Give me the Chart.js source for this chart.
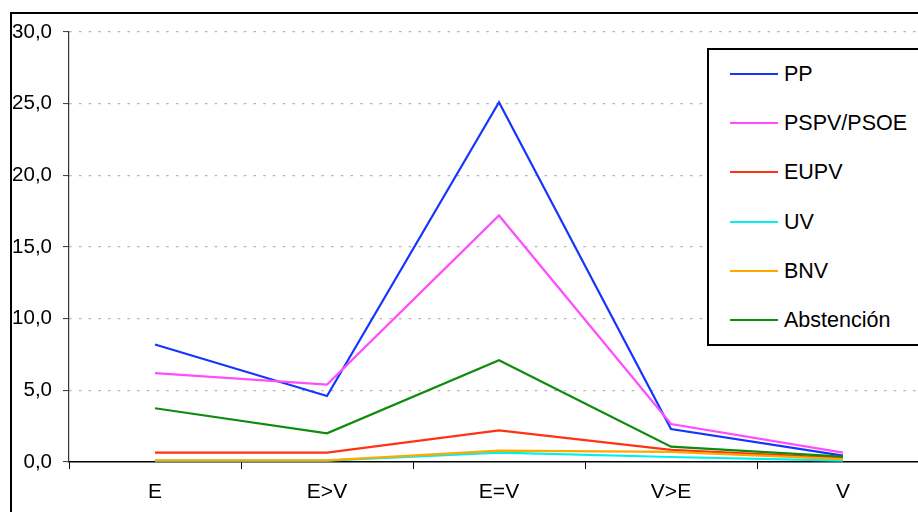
<!DOCTYPE html>
<html>
<head>
<meta charset="utf-8">
<script src="https://cdn.jsdelivr.net/npm/chart.js@4/dist/chart.umd.min.js"></script>
<style>
  html, body { margin: 0; padding: 0; background: #fff; overflow: hidden; }
  body { width: 918px; height: 512px; position: relative; font-family: "Liberation Sans", Arial, sans-serif; }
  #marco { position: absolute; left: 10px; top: 12px; width: 1000px; height: 600px; border: 2px solid #000; box-sizing: border-box; }
  #lienzo { position: absolute; left: 0; top: 0; width: 940px; height: 512px; }
  #leyenda { position: absolute; left: 707px; top: 48px; width: 260px; height: 298px; border: 2px solid #000; box-sizing: border-box; background: #fff; }
  .item { position: absolute; left: 21px; height: 26px; line-height: 26px; font-size: 21.5px; color: #000; white-space: nowrap; }
  .item span { display: inline-block; width: 48px; height: 2px; vertical-align: middle; margin-right: 6px; position: relative; top: -1px; }
</style>
</head>
<body>
<div id="marco"></div>
<div id="lienzo"><canvas id="grafico" width="940" height="512"></canvas></div>
<div id="leyenda"></div>
<script>
// categorias del eje x
var categorias = ['E', 'E>V', 'E=V', 'V>E', 'V'];

// porcentajes por partido
var pp         = [8.2, 4.6, 25.1, 2.3, 0.45];
var pspv_psoe  = [6.2, 5.4, 17.2, 2.65, 0.65];
var eupv       = [0.65, 0.65, 2.2, 0.85, 0.28];
var uv         = [0.1, 0.1, 0.65, 0.35, 0.1];
var bnv        = [0.12, 0.12, 0.8, 0.7, 0.2];
var abstencion = [3.75, 2.0, 7.1, 1.07, 0.38];

var nombres = ['PP', 'PSPV/PSOE', 'EUPV', 'UV', 'BNV', 'Abstención'];
var colores = ['#1535ff', '#ff4cff', '#ff3311', '#00f0f0', '#ffa800', '#0d8c0d'];
var series = [pp, pspv_psoe, eupv, uv, bnv, abstencion];

var marcas_y = [0, 5, 10, 15, 20, 25, 30];

var datasets = [];
for (var i = 0; i < series.length; i++) {
    datasets.push({
        label: nombres[i],
        data: series[i],
        borderColor: colores[i],
        backgroundColor: colores[i],
        borderWidth: 2.2,
        pointRadius: 0,
        tension: 0,
        fill: false,
        order: series.length - i
    });
}

// leyenda en html (caja con borde como en el original)
var leyenda = document.getElementById('leyenda');
var centros = [24, 73, 122, 172, 221, 270];
for (var j = 0; j < nombres.length; j++) {
    var d = document.createElement('div');
    d.className = 'item';
    d.style.top = (centros[j] - 13) + 'px';
    d.innerHTML = '<span style="background:' + colores[j] + '"></span>' + nombres[j];
    leyenda.appendChild(d);
}

const ctx = document.getElementById('grafico');
const grafico = new Chart(ctx, {
    type: 'line',
    data: {
        labels: categorias,
        datasets: datasets
    },
    options: {
        responsive: false,
        animation: false,
        layout: {
            padding: { top: 32, right: 11, left: 0, bottom: 0 }
        },
        plugins: {
            legend: { display: false },
            tooltip: { enabled: false }
        },
        scales: {
            x: {
                offset: true,
                grid: {
                    offset: true,
                    drawOnChartArea: false,
                    drawTicks: true,
                    tickLength: 7,
                    tickColor: '#000',
                    tickWidth: 1
                },
                border: { color: '#000', width: 1.5 },
                ticks: {
                    color: '#000',
                    padding: 11,
                    font: { family: 'Liberation Sans', size: 21 }
                },
                afterFit: function (s) { s.height = 50; }
            },
            y: {
                min: 0,
                max: 30,
                afterBuildTicks: function (s) {
                    s.ticks = marcas_y.map(function (v) { return { value: v }; });
                },
                grid: {
                    color: function (c) { return c.tick && c.tick.value === 0 ? 'rgba(0,0,0,0)' : '#b4b4b4'; },
                    lineWidth: 1.2,
                    drawTicks: true,
                    tickLength: 6,
                    tickColor: '#333',
                    tickWidth: 1
                },
                border: { color: '#333', width: 1.2, dash: [2.5, 7.2] },
                ticks: {
                    color: '#000',
                    padding: 11,
                    font: { family: 'Liberation Sans', size: 20.5 },
                    callback: function (v) { return v.toFixed(1).replace('.', ','); }
                },
                afterFit: function (s) { s.width = 69; }
            }
        }
    }
});
</script>
</body>
</html>
